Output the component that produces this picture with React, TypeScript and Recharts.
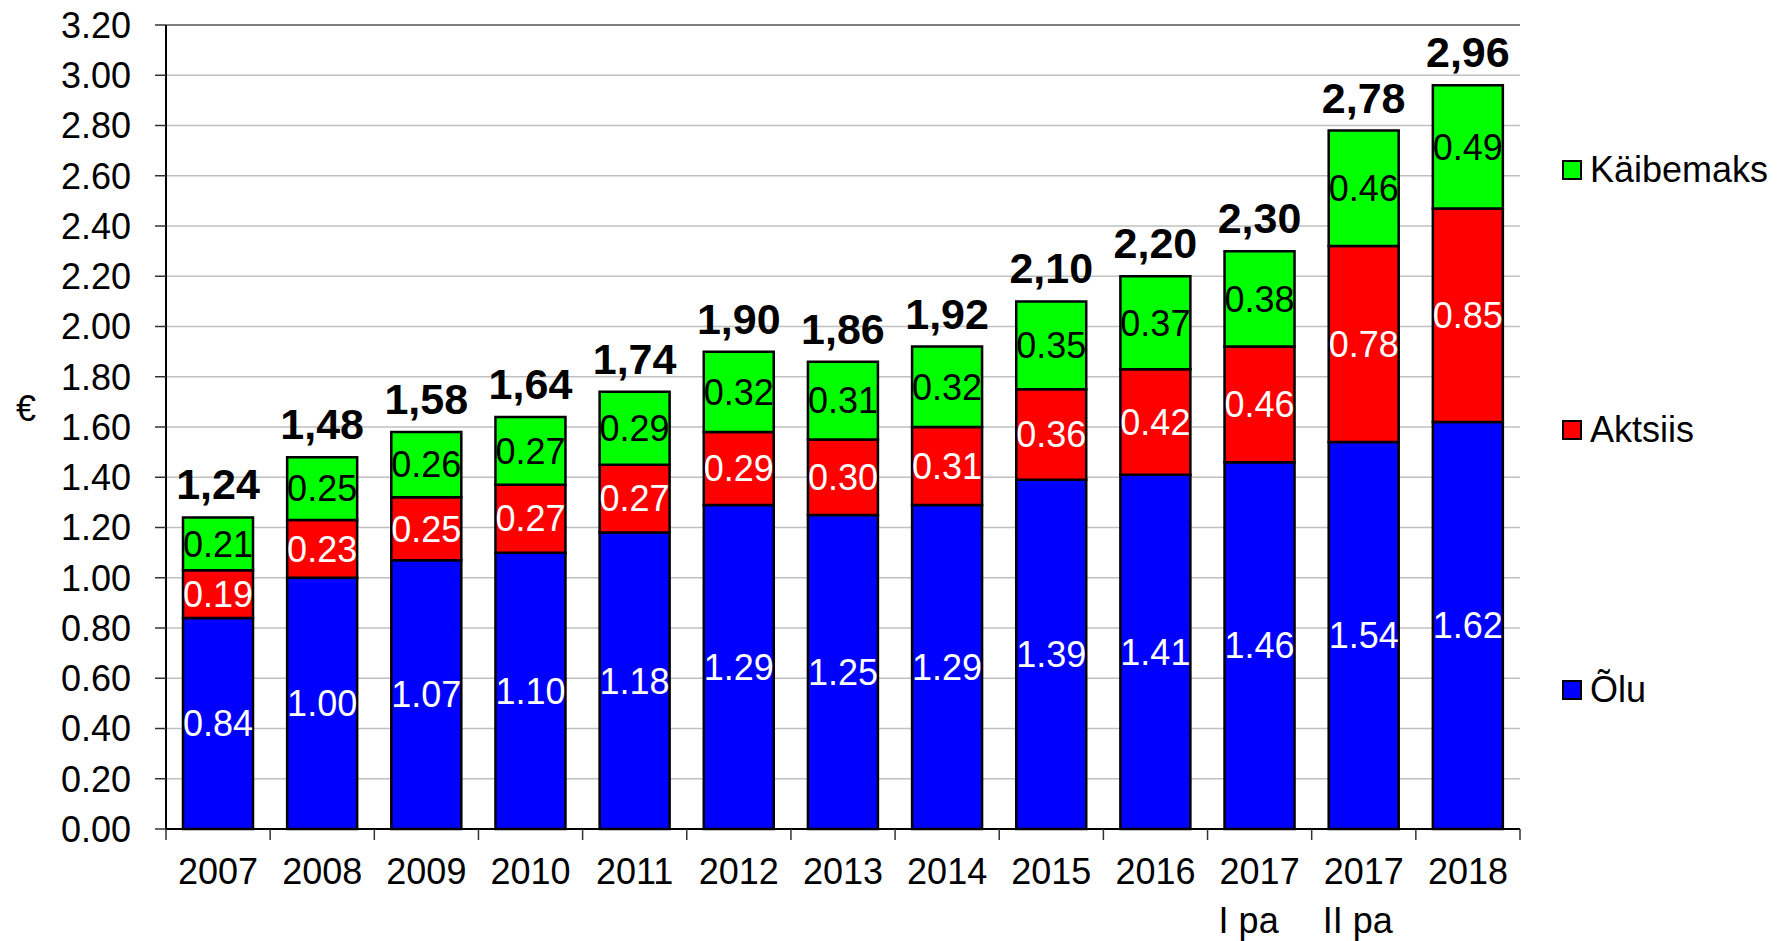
import React from 'react';
import {
  BarChart,
  Bar,
  XAxis,
  YAxis,
  CartesianGrid,
  LabelList,
  Legend,
  ReferenceLine,
} from 'recharts';

const categories = [
  '2007', '2008', '2009', '2010', '2011', '2012', '2013',
  '2014', '2015', '2016', '2017\nI pa', '2017\nII pa', '2018',
];
const oluValues = [0.84, 1.0, 1.07, 1.1, 1.18, 1.29, 1.25, 1.29, 1.39, 1.41, 1.46, 1.54, 1.62];
const aktsiisValues = [0.19, 0.23, 0.25, 0.27, 0.27, 0.29, 0.3, 0.31, 0.36, 0.42, 0.46, 0.78, 0.85];
const kaibemaksValues = [0.21, 0.25, 0.26, 0.27, 0.29, 0.32, 0.31, 0.32, 0.35, 0.37, 0.38, 0.46, 0.49];
const totalLabels = ['1,24', '1,48', '1,58', '1,64', '1,74', '1,90', '1,86', '1,92', '2,10', '2,20', '2,30', '2,78', '2,96'];
const yTicks = [0, 0.2, 0.4, 0.6, 0.8, 1.0, 1.2, 1.4, 1.6, 1.8, 2.0, 2.2, 2.4, 2.6, 2.8, 3.0, 3.2];

// legend, top to bottom
const legendNames = ['Käibemaks', 'Aktsiis', 'Õlu'];
const legendColors = ['#00ff00', '#ff0000', '#0000ff'];

const FONT = '"Liberation Sans", Arial, sans-serif';
const CHART_W = 1790;
const CHART_H = 941;
const MARGIN = { top: 25, right: 270, bottom: 0, left: 0 };
const Y_AXIS_W = 166;
const X_AXIS_H = 112;
const HALF_BAND = (CHART_W - MARGIN.right - Y_AXIS_W) / categories.length / 2;

const data = categories.map((name, i) => ({
  name,
  olu: oluValues[i],
  aktsiis: aktsiisValues[i],
  kaibemaks: kaibemaksValues[i],
  total: totalLabels[i],
}));

const fmt = (v: any) => Number(v).toFixed(2);

const XTick = (props: any) => {
  const { x, y, payload, index } = props;
  const lines = String(payload.value).split('\n');
  const last = index === categories.length - 1;
  return (
    <g>
      <line x1={x - HALF_BAND} x2={x - HALF_BAND} y1={y} y2={y + 11} stroke="#333" strokeWidth={1.5} />
      {last && (
        <line x1={x + HALF_BAND} x2={x + HALF_BAND} y1={y} y2={y + 11} stroke="#333" strokeWidth={1.5} />
      )}
      <text x={x} y={y + 55} textAnchor="middle" fontSize={36} fontFamily={FONT} fill="#000">
        {lines[0]}
      </text>
      {lines[1] && (
        <text x={x - 41} y={y + 104} textAnchor="start" fontSize={36} fontFamily={FONT} fill="#000">
          {lines[1]}
        </text>
      )}
    </g>
  );
};

const LegendContent = () => (
  <div style={{ position: 'relative', fontFamily: FONT, fontSize: 36, color: '#000' }}>
    {legendNames.map((name, i) => (
      <div
        key={name}
        style={{
          position: 'absolute',
          top: i * 260,
          left: 0,
          height: 40,
          display: 'flex',
          alignItems: 'center',
          whiteSpace: 'nowrap',
        }}
      >
        <span
          style={{
            display: 'inline-block',
            width: 16,
            height: 16,
            background: legendColors[i],
            border: '2px solid #000',
            marginRight: 8,
          }}
        />
        {name}
      </div>
    ))}
  </div>
);

export default function App() {
  return (
    <div style={{ position: 'absolute', left: 0, top: 0, width: CHART_W, height: CHART_H, background: '#fff' }}>
      <BarChart width={CHART_W} height={CHART_H} data={data} margin={MARGIN} barSize={70}>
        <CartesianGrid yAxisId="left" vertical={false} stroke="#c0c0c0" strokeWidth={1.5} />
        <XAxis
          dataKey="name"
          height={X_AXIS_H}
          interval={0}
          tickSize={0}
          tickMargin={0}
          tickLine={false}
          axisLine={{ stroke: '#000', strokeWidth: 2 }}
          tick={<XTick />}
        />
        <YAxis
          yAxisId="left"
          width={Y_AXIS_W}
          domain={[0, 3.2]}
          ticks={yTicks}
          interval={0}
          tickFormatter={fmt}
          tickSize={11}
          tickMargin={24}
          tickLine={{ stroke: '#333', strokeWidth: 1.5 }}
          axisLine={{ stroke: '#000', strokeWidth: 2 }}
          tick={{ fill: '#000', fontSize: 36, fontFamily: FONT }}
          label={{ value: '€', position: 'insideLeft', offset: 16, dy: -19, fontSize: 36, fill: '#000', fontFamily: FONT }}
        />
        <YAxis
          yAxisId="right"
          orientation="right"
          width={0}
          tick={false}
          tickLine={false}
          axisLine={{ stroke: '#999', strokeWidth: 2 }}
        />
        <ReferenceLine yAxisId="left" y={3.2} stroke="#808080" strokeWidth={2} />
        <Legend
          layout="vertical"
          align="center"
          verticalAlign="middle"
          content={<LegendContent />}
          wrapperStyle={{ left: 1562, top: 150, width: 228, height: 600 }}
        />
        <Bar yAxisId="left" dataKey="olu" name="Õlu" stackId="a" fill="#0000ff" stroke="#000" strokeWidth={2.5} isAnimationActive={false}>
          <LabelList dataKey="olu" position="center" formatter={fmt} fill="#fff" fontSize={36} fontFamily={FONT} />
        </Bar>
        <Bar yAxisId="left" dataKey="aktsiis" name="Aktsiis" stackId="a" fill="#ff0000" stroke="#000" strokeWidth={2.5} isAnimationActive={false}>
          <LabelList dataKey="aktsiis" position="center" formatter={fmt} fill="#fff" fontSize={36} fontFamily={FONT} />
        </Bar>
        <Bar yAxisId="left" dataKey="kaibemaks" name="Käibemaks" stackId="a" fill="#00ff00" stroke="#000" strokeWidth={2.5} isAnimationActive={false}>
          <LabelList dataKey="kaibemaks" position="center" formatter={fmt} fill="#000" fontSize={36} fontFamily={FONT} />
          <LabelList dataKey="total" position="top" offset={18} fill="#000" fontSize={43} fontWeight="bold" fontFamily={FONT} />
        </Bar>
      </BarChart>
    </div>
  );
}
